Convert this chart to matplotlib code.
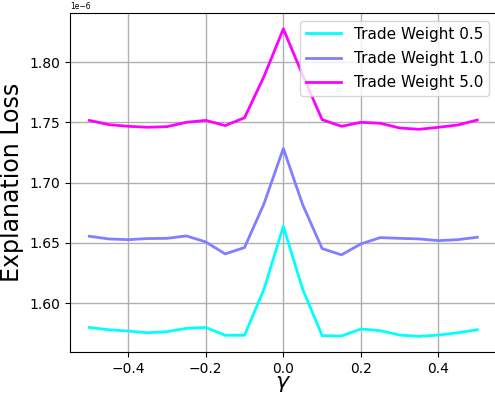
import numpy as np
import matplotlib.pyplot as plt

gamma = [-0.5, -0.45, -0.4, -0.35, -0.3, -0.25, -0.2, -0.15, -0.1, -0.05, 0.0,
         0.05, 0.1, 0.15, 0.2, 0.25, 0.3, 0.35, 0.4, 0.45, 0.5]

loss_w05 = [1.5799, 1.5780, 1.5769, 1.5755, 1.5764, 1.5791, 1.5799, 1.5734, 1.5734, 1.6115, 1.6637,
            1.6115, 1.5731, 1.5728, 1.5786, 1.5772, 1.5736, 1.5725, 1.5736, 1.5755, 1.5780]
loss_w10 = [1.6555, 1.6533, 1.6527, 1.6536, 1.6538, 1.6558, 1.6508, 1.6409, 1.6462, 1.6824, 1.7283,
            1.6816, 1.6453, 1.6401, 1.6492, 1.6544, 1.6538, 1.6533, 1.6519, 1.6527, 1.6547]
loss_w50 = [1.7516, 1.7481, 1.7467, 1.7459, 1.7464, 1.7500, 1.7516, 1.7473, 1.7538, 1.7879, 1.8275,
            1.7890, 1.7522, 1.7467, 1.7500, 1.7492, 1.7453, 1.7442, 1.7459, 1.7478, 1.7519]

fig = plt.figure(figsize=(4.95, 3.96), dpi=100)
ax = fig.add_axes([0.1414, 0.111, 0.862, 0.856])

scale = 1e-6
ax.plot(gamma, np.array(loss_w05) * scale, color='#00ffff', lw=2, label='Trade Weight 0.5')
ax.plot(gamma, np.array(loss_w10) * scale, color='#7f7fff', lw=2, label='Trade Weight 1.0')
ax.plot(gamma, np.array(loss_w50) * scale, color='#ff00ff', lw=2, label='Trade Weight 5.0')

ax.set_xlim(-0.55, 0.55)
ax.set_ylim(1.5595e-6, 1.8406e-6)
ax.set_yticks(np.array([1.60, 1.65, 1.70, 1.75, 1.80]) * scale)
ax.grid(True, color='#b0b0b0', lw=1)
ax.tick_params(labelsize=10)
ax.yaxis.get_offset_text().set_fontsize(5.5)

ax.set_xlabel(r'$\gamma$', fontsize=16, labelpad=-1)
ax.set_ylabel('Explanation Loss', fontsize=17)
ax.legend(loc='upper right', fontsize=11, labelspacing=0.6, handlelength=2.3)

fig.savefig('out.png', dpi=100)
